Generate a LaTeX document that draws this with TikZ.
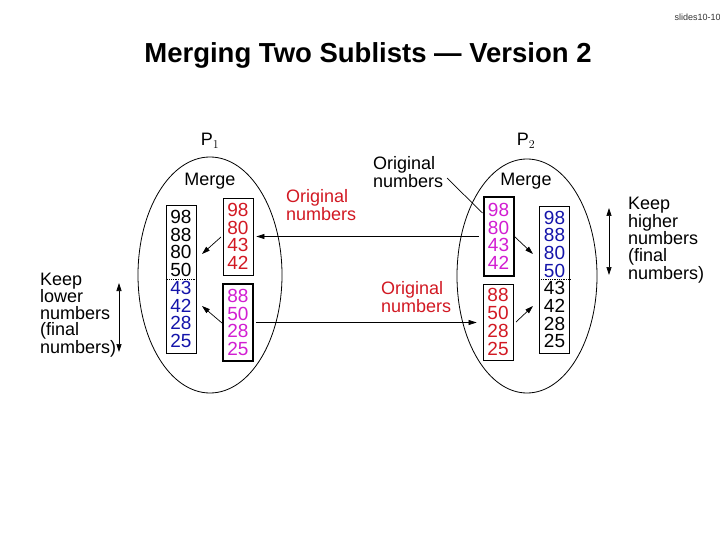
\documentclass[tikz,border=0pt]{standalone}
\usepackage{fontspec}
\setmainfont{Liberation Sans}
\usetikzlibrary{shapes.geometric,arrows.meta}
\definecolor{myred}{RGB}{210,25,35}
\definecolor{mymag}{RGB}{210,30,210}
\definecolor{myblue}{RGB}{20,20,170}
\begin{document}
\begin{tikzpicture}[x=1pt,y=-1pt,
  lbl/.style={font=\fontsize{18}{15}\selectfont, align=left, inner sep=0},
  lblk/.style={font=\fontsize{18}{16.5}\selectfont, align=left, inner sep=0},
  nums/.style={draw, line width=0.8pt, font=\fontsize{19}{17.7}\selectfont, align=center, inner sep=0, minimum width=30pt},
  thickbox/.style={line width=2pt},
  arr/.style={-{Triangle[length=8pt,width=5pt]}, line width=0.7pt},
  dbl/.style={{Triangle[length=8pt,width=5pt]}-{Triangle[length=8pt,width=5pt]}, line width=0.7pt},
  oval/.style={draw, ellipse, line width=0.8pt, inner sep=0}]
\useasboundingbox (0,0) rectangle (720,540);
\fill[white] (0,0) rectangle (720,540);

\node[font=\fontsize{27.5}{30}\selectfont\bfseries, anchor=base] (title) at (368,63) {Merging Two Sublists — Version 2};
\node[font=\fontsize{9}{10}\selectfont, anchor=west, text=black!80] (sl) at (671,17) {slides10-10};

% ovals
\node[oval, minimum width=144pt, minimum height=236pt] (E1) at (210,275) {};
\node[oval, minimum width=140pt, minimum height=234pt] (E2) at (527,276) {};

\node[lbl] (P1) at (210,141) {P$_1$};
\node[lbl] (P2) at (526,141) {P$_2$};
\node[lbl] (mg1) at (210,181) {Merge};
\node[lbl] (mg2) at (526,181) {Merge};

% P1 boxes
\node[nums, minimum height=148pt] (L1) at (181,279) {98\\88\\80\\50\\\color{myblue}43\\\color{myblue}42\\\color{myblue}28\\\color{myblue}25};
\node[nums, minimum height=77pt, text=myred] (R1) at (238,236.5) {98\\80\\43\\42};
\node[nums, thickbox, minimum height=77pt, text=mymag] (M1) at (238,322.5) {88\\50\\28\\25};
\draw[densely dotted, line width=0.8pt] (L1.west |- 0,279) -- (L1.east |- 0,279);

% P2 boxes
\node[nums, thickbox, minimum height=79pt, text=mymag] (M2) at (498.5,236.5) {98\\80\\43\\42};
\node[nums, minimum height=76pt, text=myred] (R2) at (498,322) {88\\50\\28\\25};
\node[nums, minimum height=147pt, text=myblue] (L2) at (554.5,279.5) {98\\88\\80\\50\\\color{black}43\\\color{black}42\\\color{black}28\\\color{black}25};
\draw[densely dotted, line width=0.8pt] (L2.west |- 0,279) -- (L2.east |- 0,279);

% small merge arrows
\coordinate (a1s) at (221,237); \coordinate (a1e) at (202,254);
\coordinate (a2s) at (222,323); \coordinate (a2e) at (202,306);
\coordinate (a3s) at (515,237); \coordinate (a3e) at (533,254);
\coordinate (a4s) at (516,322); \coordinate (a4e) at (533,306);
\draw[arr] (a1s) -- (a1e);
\draw[arr] (a2s) -- (a2e);
\draw[arr] (a3s) -- (a3e);
\draw[arr] (a4s) -- (a4e);

% exchange arrows
\draw[arr] ([xshift=-4pt]M2.west) -- ([xshift=3pt]R1.east);
\draw[arr] ([xshift=2pt]M1.east) -- ([xshift=-6pt]R2.west |- M1.east);

% labels
\node[lbl, text=myred, anchor=west] (o1) at (286,205) {Original\\numbers};
\node[lbl, anchor=west] (o2) at (373,172) {Original\\numbers};
\node[lbl, text=myred, anchor=west] (o3) at (381,297) {Original\\numbers};
\coordinate (c2) at (447,178);
\draw[line width=0.7pt] (c2) -- ([yshift=-17pt]M2.north west);

\node[lblk, anchor=west] (k1) at (40,315) {Keep\\lower\\numbers\\(final\\numbers)};
\node[lblk, anchor=west] (k2) at (628,240) {Keep\\higher\\numbers\\(final\\numbers)};
\coordinate (d1a) at (119,283); \coordinate (d1b) at (119,352);
\coordinate (d2a) at (609,208); \coordinate (d2b) at (609,275);
\draw[dbl] (d1a) -- (d1b);
\draw[dbl] (d2a) -- (d2b);
\end{tikzpicture}
\end{document}
